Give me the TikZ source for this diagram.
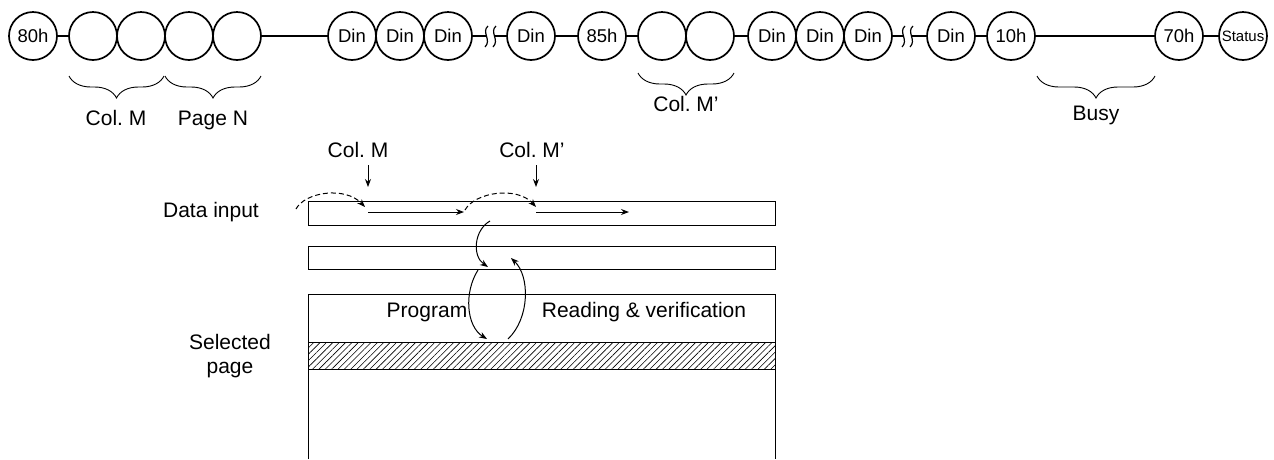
\documentclass[tikz,border=0pt]{standalone}
\usepackage{fontspec}
\setmainfont{Liberation Sans}
\frenchspacing
\usetikzlibrary{decorations.pathreplacing,arrows.meta,patterns.meta}
\begin{document}
\begin{tikzpicture}[x=1pt,y=-1pt,
  bub/.style={circle, draw, line width=1.7pt, minimum size=48pt, inner sep=0pt, font=\fontsize{18.5}{18.5}\selectfont},
  small/.style={font=\fontsize{15}{15}\selectfont},
  lbl/.style={font=\fontsize{21}{25}\selectfont, inner sep=0pt, anchor=base},
  brc/.style={decorate, decoration={brace, mirror, amplitude=22pt}, line width=0.9pt},
  wire/.style={line width=1.7pt},
  thin/.style={line width=1pt},
  arr/.style={thin, -{Stealth[length=8pt,width=6pt]}},
  darr/.style={thin, dashed, dash pattern=on 5pt off 3pt, -{Stealth[length=8pt,width=6pt]}}]
\useasboundingbox (0,0) rectangle (1274,459);
% --- top sequence ---
\node[bub] (c80) at (33,36) {80h};
\node[bub] (b1) at (93,36) {};
\node[bub] (b2) at (141,36) {};
\node[bub] (b3) at (189,36) {};
\node[bub] (b4) at (237,36) {};
\node[bub] (d1) at (352,36) {Din};
\node[bub] (d2) at (400,36) {Din};
\node[bub] (d3) at (448,36) {Din};
\node[bub] (d4) at (531,36) {Din};
\node[bub] (c85) at (602,36) {85h};
\node[bub] (b5) at (662,36) {};
\node[bub] (b6) at (710,36) {};
\node[bub] (d5) at (772,36) {Din};
\node[bub] (d6) at (820,36) {Din};
\node[bub] (d7) at (868,36) {Din};
\node[bub] (d8) at (951,36) {Din};
\node[bub] (c10) at (1011,36) {10h};
\node[bub] (c70) at (1179,36) {70h};
\node[bub,small] (st) at (1243,36) {Status};
\coordinate (s1a) at (486,36);
\coordinate (s1b) at (495,36);
\coordinate (s2a) at (903,36);
\coordinate (s2b) at (912,36);
\draw[wire] (c80) -- (b1);
\draw[wire] (b4) -- (d1);
\draw[wire] (d3) -- (s1a);
\draw[wire] (s1b) -- (d4);
\draw[wire] (d4) -- (c85);
\draw[wire] (c85) -- (b5);
\draw[wire] (b6) -- (d5);
\draw[wire] (d7) -- (s2a);
\draw[wire] (s2b) -- (d8);
\draw[wire] (d8) -- (c10);
\draw[wire] (c10) -- (c70);
\draw[wire] (c70) -- (st);
\foreach \x in {488,496,905,913}{
  \draw[line width=1.2pt] (\x,26) .. controls (\x-7,32) and (\x+4,40) .. (\x-3,47);
}
% braces
\draw[brc] (69,76) -- (164,76);
\draw[brc] (165,76) -- (261,76);
\draw[brc] (638,73) -- (734,73);
\draw[brc] (1037,76) -- (1155,76);
\node[lbl] (lcm) at (116,125) {Col. M};
\node[lbl] (lpn) at (213,125) {Page N};
\node[lbl] (lcm2) at (686,111) {Col. M’};
\node[lbl] (lbusy) at (1096,120) {Busy};
% --- lower part ---
\node[lbl] (tcm) at (358,157) {Col. M};
\node[lbl] (tcm2) at (532,157) {Col. M’};
\node[lbl] (tdi) at (211,217) {Data input};
\node[lbl] (tsp) at (230,349) {Selected};
\node[lbl] (tsp2) at (230,373) {page};
\node[lbl] (tpr) at (427,317) {Program};
\node[lbl] (trv) at (644,317) {Reading \& verification};
\draw[thin] (308,201) rectangle (775,225);
\draw[thin] (308,246) rectangle (775,269);
\draw[thin, pattern={Lines[angle=45,distance=4.5pt,line width=0.6pt]}] (308,342) rectangle (775,369);
\draw[thin] (308,459) -- (308,294) -- (775,294) -- (775,459);
% arrows
\coordinate (m1t) at (368,165);
\coordinate (m1b) at (368,187);
\coordinate (m2t) at (536,165);
\coordinate (m2b) at (536,187);
\draw[arr] (m1t) -- (m1b);
\draw[arr] (m2t) -- (m2b);
\coordinate (da) at (296,209);
\coordinate (db) at (365,207);
\coordinate (dc) at (465,210);
\coordinate (dd) at (536,207);
\coordinate (ra) at (368,212);
\coordinate (rb) at (464,212);
\coordinate (rc) at (536,212);
\coordinate (rd) at (629,212);
\draw[darr] (da) .. controls (305,192) and (345,186) .. (db);
\draw[darr] (dc) .. controls (475,192) and (517,186) .. (dd);
\draw[arr] (ra) -- (rb);
\draw[arr] (rc) -- (rd);
\coordinate (p1) at (490,221);
\coordinate (p2) at (488,267);
\draw[arr] (p1) .. controls (474,230) and (472,256) .. (p2);
\coordinate (q1) at (478,270);
\coordinate (q2) at (487,339);
\draw[arr] (q1) .. controls (464,292) and (466,326) .. (q2);
\coordinate (r1) at (508,339);
\coordinate (r2) at (511,258);
\draw[arr] (r1) .. controls (530,318) and (530,276) .. (r2);
\end{tikzpicture}
\end{document}
